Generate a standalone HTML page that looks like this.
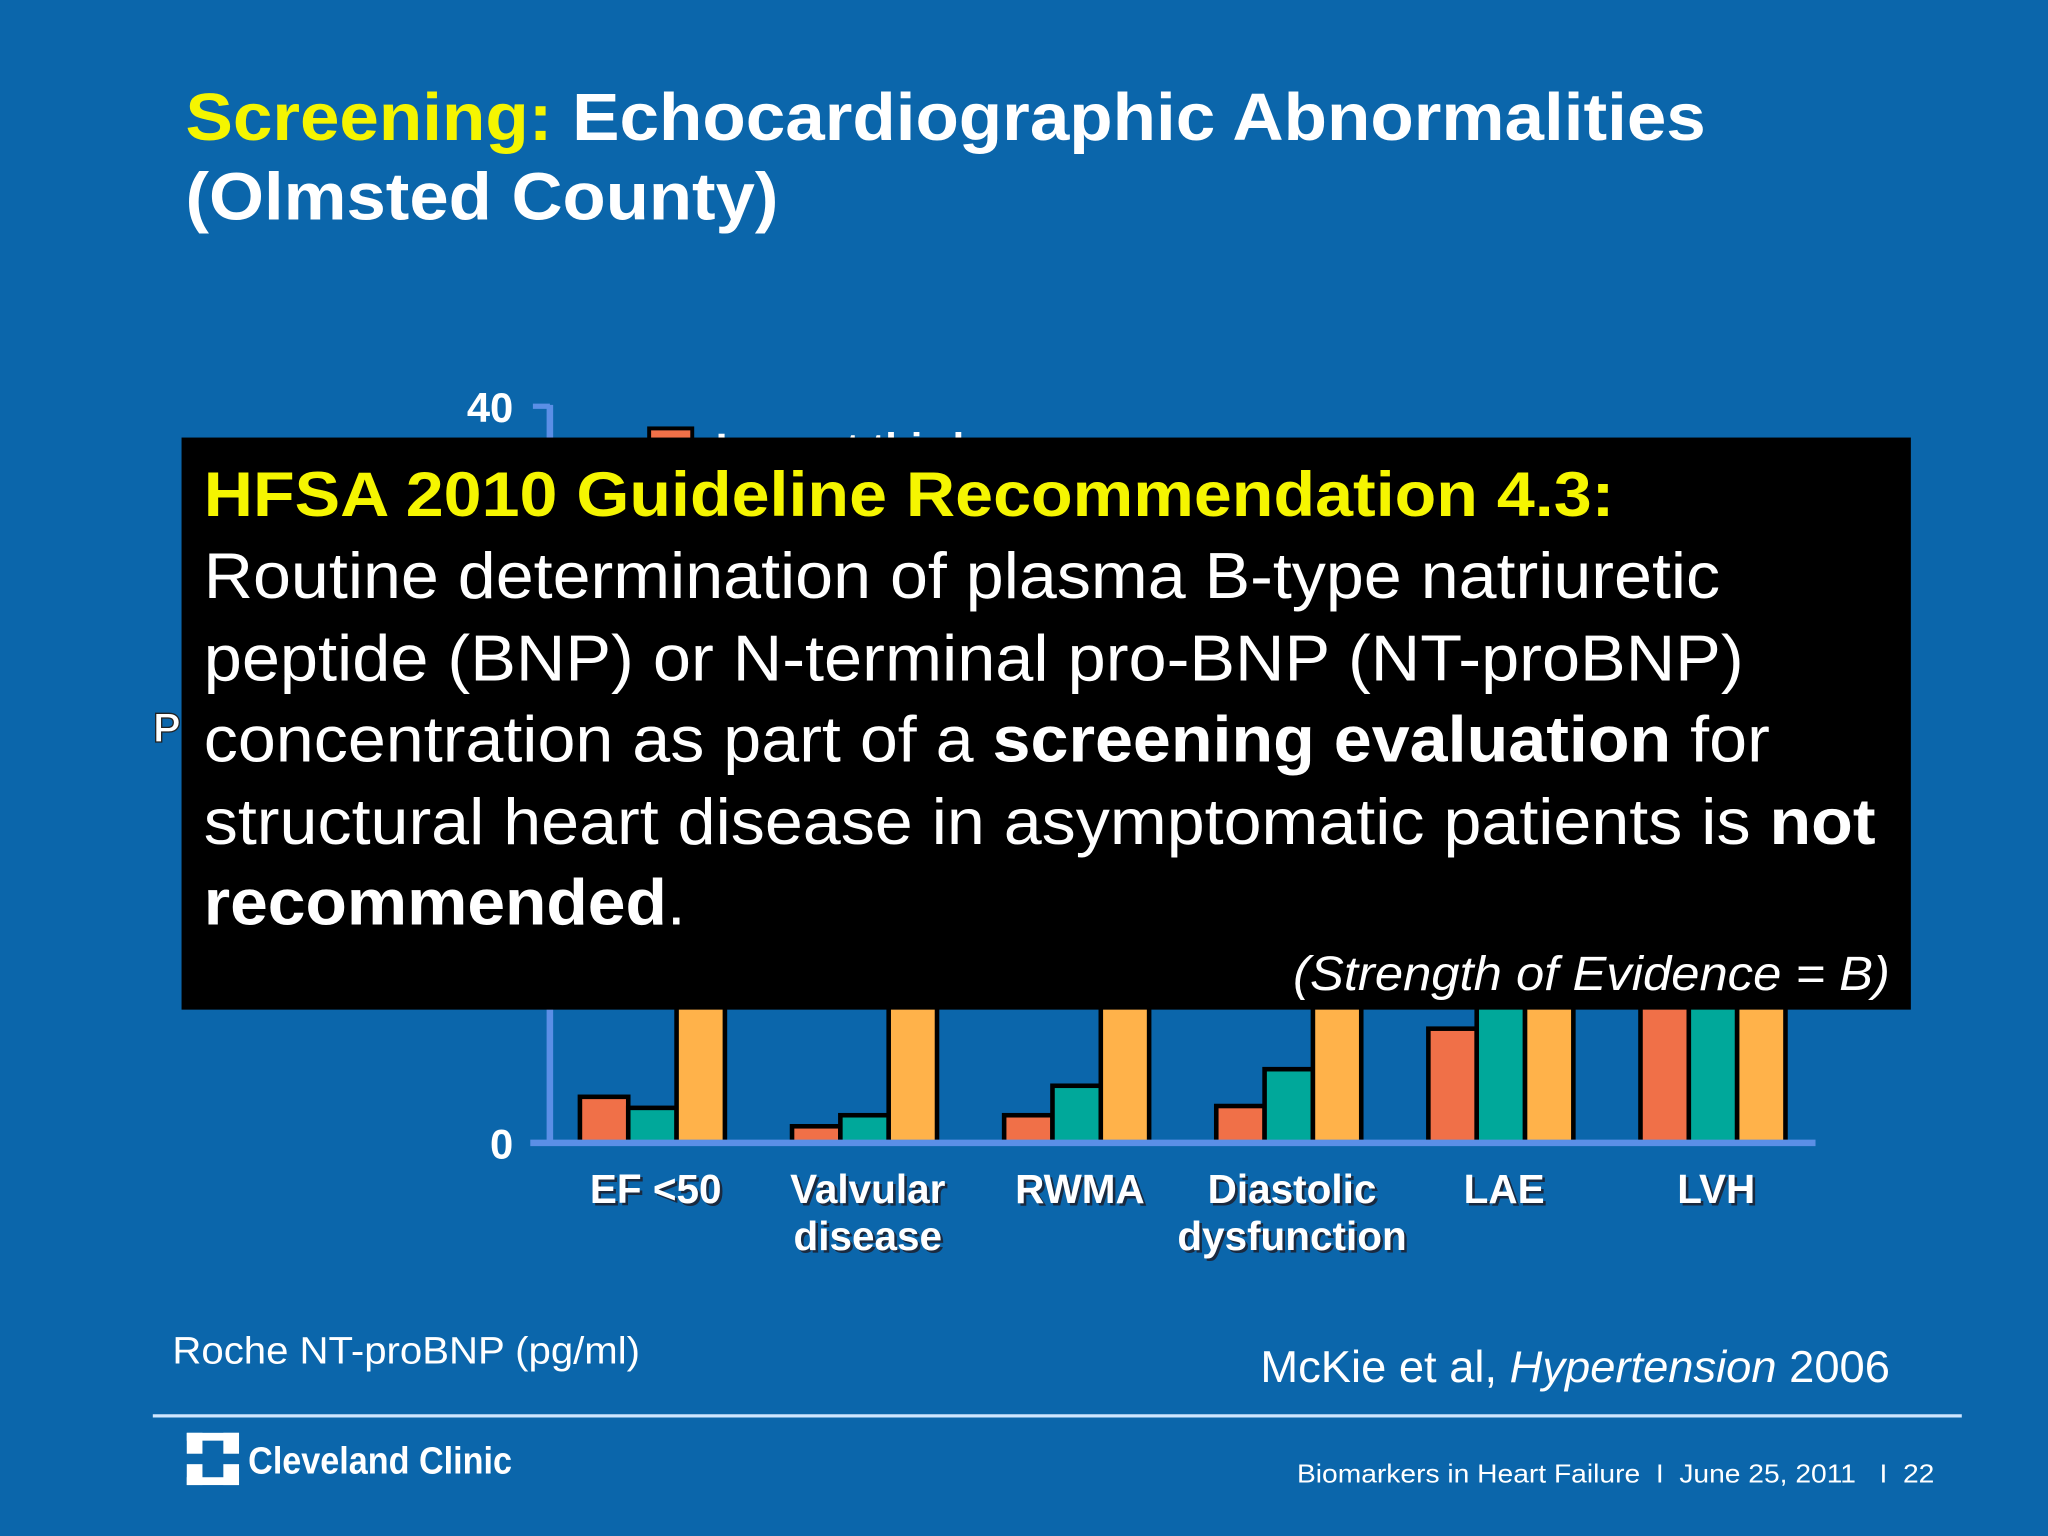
<!DOCTYPE html>
<html><head><meta charset="utf-8"><style>
html,body{margin:0;padding:0;background:#0b66ab;}
svg{display:block;}
text{font-family:"Liberation Sans",Arial,sans-serif;}
</style></head><body>
<svg id="s" width="2048" height="1536" viewBox="0 0 1568 1176" xmlns="http://www.w3.org/2000/svg">
<rect x="0" y="0" width="1568" height="1176" fill="#0b66ab"/>
<text x="142" y="107" font-size="51" font-weight="bold" fill="#fff" textLength="1164" lengthAdjust="spacingAndGlyphs"><tspan fill="#f5f500">Screening:</tspan> Echocardiographic Abnormalities</text>
<text x="142" y="168" font-size="51" font-weight="bold" fill="#fff" textLength="454" lengthAdjust="spacingAndGlyphs">(Olmsted County)</text>

<g id="chart">
<text x="117" y="568" font-size="32" font-weight="bold" fill="#fff" stroke="#222" stroke-width="1">Prevalence (%)</text>
<g id="bars"></g>
<line x1="421" y1="310" x2="421" y2="877" stroke="#5b8fe6" stroke-width="5"/>
<line x1="408" y1="311" x2="421" y2="311" stroke="#5b8fe6" stroke-width="4"/>
<line x1="406" y1="875" x2="1390" y2="875" stroke="#5b8fe6" stroke-width="5"/>
<g id="yticks"></g>
<rect x="497" y="328" width="33" height="20" fill="#f07048" stroke="#000" stroke-width="3"/>
<text x="548" y="354" font-size="32" font-weight="bold" fill="#fff">Lowest third</text>
<g id="xlabels"></g>
</g>

<rect x="139" y="335" width="1324" height="438" fill="#000"/>
<g font-size="50" fill="#fff">
<text x="156" y="395" font-size="48" font-weight="bold" fill="#f5f500" textLength="1080" lengthAdjust="spacingAndGlyphs">HFSA 2010 Guideline Recommendation 4.3:</text>
<text x="156" y="458" textLength="1161" lengthAdjust="spacingAndGlyphs">Routine determination of plasma B-type natriuretic</text>
<text x="156" y="521" textLength="1179" lengthAdjust="spacingAndGlyphs">peptide (BNP) or N-terminal pro-BNP (NT-proBNP)</text>
<text x="156" y="583" textLength="1199" lengthAdjust="spacingAndGlyphs">concentration as part of a <tspan font-weight="bold">screening evaluation</tspan> for</text>
<text x="156" y="646" textLength="1280" lengthAdjust="spacingAndGlyphs">structural heart disease in asymptomatic patients is <tspan font-weight="bold">not</tspan></text>
<text x="156" y="708" textLength="369" lengthAdjust="spacingAndGlyphs"><tspan font-weight="bold">recommended</tspan>.</text>
<text x="990" y="758" font-size="37" font-style="italic" textLength="457" lengthAdjust="spacingAndGlyphs">(Strength of Evidence = B)</text>
</g>

<text x="132" y="1044" font-size="29" fill="#fff" textLength="358" lengthAdjust="spacingAndGlyphs">Roche NT-proBNP (pg/ml)</text>
<text x="965" y="1058" font-size="34" fill="#fff" textLength="482" lengthAdjust="spacingAndGlyphs">McKie et al, <tspan font-style="italic">Hypertension</tspan> 2006</text>
<line x1="117" y1="1084" x2="1502" y2="1084" stroke="#cfe6ff" stroke-width="2.5"/>
<g>
<rect x="143" y="1097" width="12" height="16" fill="#fff"/><rect x="171" y="1097" width="12" height="16" fill="#fff"/>
<rect x="143" y="1121" width="12" height="16" fill="#fff"/><rect x="171" y="1121" width="12" height="16" fill="#fff"/>
<rect x="143" y="1097" width="40" height="6" fill="#fff"/><rect x="143" y="1131" width="40" height="6" fill="#fff"/>
<text x="190" y="1128" font-size="29" font-weight="bold" fill="#fff" textLength="202" lengthAdjust="spacingAndGlyphs">Cleveland Clinic</text>
</g>
<text x="993" y="1135" font-size="20" fill="#fff" xml:space="preserve" textLength="488" lengthAdjust="spacingAndGlyphs">Biomarkers in Heart Failure  I  June 25, 2011   I  22</text>
</svg>
<script>
const categories = [["EF <50"],["Valvular","disease"],["RWMA"],["Diastolic","dysfunction"],["LAE"],["LVH"]];
const lowestThird = [2.5, 0.9, 1.5, 2.0, 6.2, 20];
const middleThird = [1.9, 1.5, 3.1, 4.0, 14, 25];
const highestThird = [12, 10, 11, 17, 25, 33];
const yTicks = [0, 40];
const NS="http://www.w3.org/2000/svg";
const y0=875, y1=311, vmax=40;
function yScale(v){return y0-(v/vmax)*(y0-y1);}
function xCenter(i){return 500+i*162.4;}
const series=[{d:lowestThird,c:"#f07048",n:"lowest"},{d:middleThird,c:"#00a89a",n:"middle"},{d:highestThird,c:"#ffb24a",n:"highest"}];
const bars=document.getElementById('bars');
categories.forEach((cat,i)=>{
  series.forEach((s,j)=>{
    const r=document.createElementNS(NS,'rect');
    const bw=37, x=xCenter(i)-56+j*bw;
    const top=yScale(s.d[i]);
    r.setAttribute('x',x);r.setAttribute('y',top);
    r.setAttribute('width',bw);r.setAttribute('height',y0-top);
    r.setAttribute('fill',s.c);r.setAttribute('stroke','#000');r.setAttribute('stroke-width','3.5');
    
    
    bars.appendChild(r);
  });
  [[2,2,'#1a2a40'],[0,0,'#fff']].forEach(([dx,dy,col])=>{
    const t=document.createElementNS(NS,'text');
    t.setAttribute('text-anchor','middle');t.setAttribute('font-size','31');t.setAttribute('font-weight','bold');
    t.setAttribute('fill',col);
    
    
    cat.forEach((line,k)=>{
      const ts=document.createElementNS(NS,'tspan');
      ts.setAttribute('x',xCenter(i)+2+dx);ts.setAttribute('y',921+k*36+dy);ts.textContent=line;t.appendChild(ts);
    });
    document.getElementById('xlabels').appendChild(t);
  });
});
yTicks.forEach(v=>{
  const t=document.createElementNS(NS,'text');
  t.setAttribute('x',393);t.setAttribute('y',yScale(v)+12);t.setAttribute('text-anchor','end');
  t.setAttribute('font-size','32');t.setAttribute('font-weight','bold');t.setAttribute('fill','#fff');
  
  
  t.textContent=v;document.getElementById('yticks').appendChild(t);
});
</script>
</body></html>
